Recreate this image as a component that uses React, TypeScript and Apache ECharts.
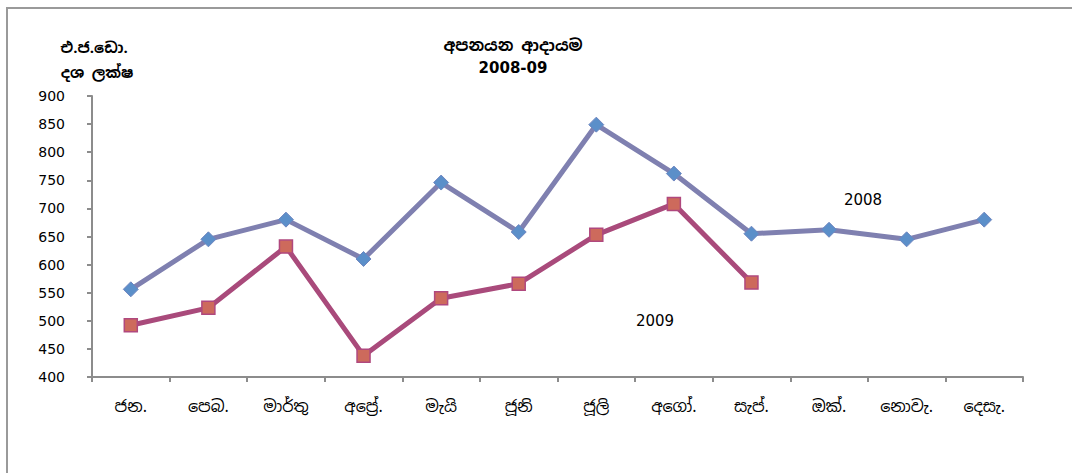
import React, { useEffect, useRef } from "react";
import * as echarts from "echarts";

const months = ["ජන.", "පෙබ.", "මාර්තු", "අප්‍රේ.", "මැයි", "ජූනි", "ජූලි", "අගෝ.", "සැප්.", "ඔක්.", "නොවැ.", "දෙසැ."];
const values2008 = [556, 645, 680, 610, 746, 658, 849, 762, 655, 662, 645, 680];
const values2009 = [492, 523, 632, 438, 540, 566, 653, 708, 568];
const titleLine1 = "අපනයන ආදායම";
const titleLine2 = "2008-09";
const yTitle1 = "එ.ජ.ඩො.";
const yTitle2 = "දශ ලක්ෂ";

const SIN = "'Noto Sans Sinhala', 'Noto Serif Sinhala', 'Iskoola Pota', 'DejaVu Sans', sans-serif";
const NUM = "'DejaVu Sans', Verdana, sans-serif";

export default function App() {
  const ref = useRef<HTMLDivElement>(null);
  useEffect(() => {
    if (!ref.current) return;
    const chart = echarts.init(ref.current, undefined, { renderer: "svg" });
    chart.setOption({
      animation: false,
      backgroundColor: "#ffffff",
      grid: { left: 92, top: 96, right: 49, bottom: 96 },
      xAxis: {
        type: "category",
        data: months,
        boundaryGap: true,
        axisLine: { lineStyle: { color: "#8c8c8c", width: 2 } },
        axisTick: { show: true, length: 5, lineStyle: { color: "#8c8c8c", width: 2 } },
        axisLabel: { color: "#000", fontSize: 16, fontFamily: SIN, margin: 21 },
      },
      yAxis: {
        type: "value",
        min: 400,
        max: 900,
        interval: 50,
        splitLine: { show: false },
        axisLine: { show: true, lineStyle: { color: "#8c8c8c", width: 2 } },
        axisTick: { show: true, length: 5, lineStyle: { color: "#8c8c8c", width: 2 } },
        axisLabel: { color: "#000", fontSize: 14, fontFamily: NUM, margin: 27 },
      },
      series: [
        {
          name: "2008",
          type: "line",
          data: values2008,
          symbol: "diamond",
          symbolSize: 15,
          lineStyle: { color: "#7f80b0", width: 5 },
          itemStyle: { color: "#5b8fc9", borderColor: "#6f86c0", borderWidth: 1 },
        },
        {
          name: "2009",
          type: "line",
          data: values2009,
          symbol: "rect",
          symbolSize: 13,
          lineStyle: { color: "#a94a7b", width: 5 },
          itemStyle: { color: "#cd6a5c", borderColor: "#b0487e", borderWidth: 1.5 },
        },
      ],
      graphic: [
        {
          type: "rect",
          shape: { x: 7, y: 8, width: 1200, height: 600 },
          style: { fill: "none", stroke: "#9a9a9a", lineWidth: 2 },
          silent: true,
        },
        {
          type: "text",
          x: 513,
          y: 45,
          style: { text: titleLine1, font: `bold 16px ${SIN}`, fill: "#000", textAlign: "center", textVerticalAlign: "middle" },
        },
        {
          type: "text",
          x: 513,
          y: 68,
          style: { text: titleLine2, font: `bold 15px ${NUM}`, fill: "#000", textAlign: "center", textVerticalAlign: "middle" },
        },
        {
          type: "text",
          x: 94,
          y: 47,
          style: { text: yTitle1, font: `bold 15px ${SIN}`, fill: "#000", textAlign: "center", textVerticalAlign: "middle" },
        },
        {
          type: "text",
          x: 97,
          y: 72,
          style: { text: yTitle2, font: `bold 15px ${SIN}`, fill: "#000", textAlign: "center", textVerticalAlign: "middle" },
        },
        {
          type: "text",
          x: 863,
          y: 200,
          style: { text: "2008", font: `15px ${NUM}`, fill: "#000", textAlign: "center", textVerticalAlign: "middle" },
        },
        {
          type: "text",
          x: 655,
          y: 321,
          style: { text: "2009", font: `15px ${NUM}`, fill: "#000", textAlign: "center", textVerticalAlign: "middle" },
        },
      ],
    });
    return () => chart.dispose();
  }, []);
  return (
    <div
      ref={ref}
      style={{ position: "absolute", left: 0, top: 0, width: 1072, height: 473 }}
    />
  );
}
